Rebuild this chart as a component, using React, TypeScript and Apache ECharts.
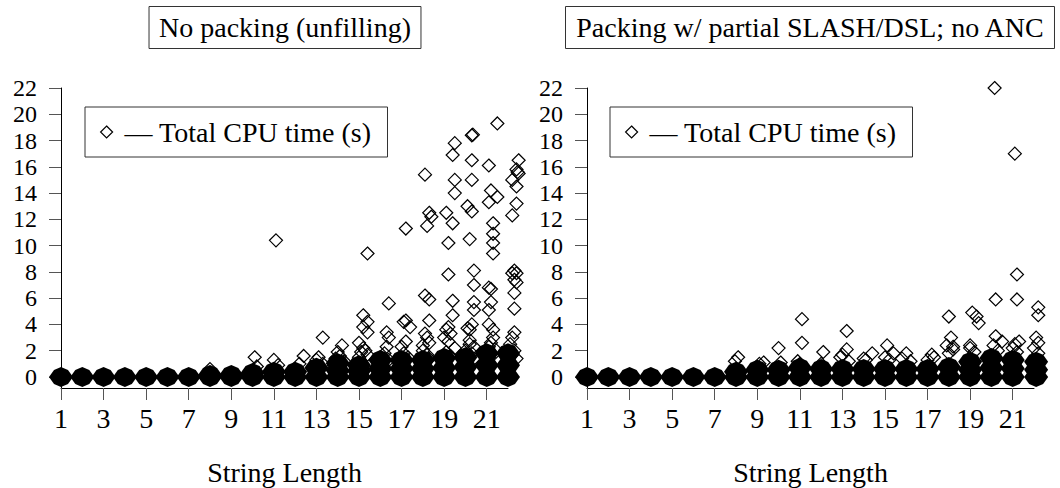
import React, { useEffect, useRef } from "react";
import * as echarts from "echarts";

const FONT = "Liberation Serif";

const xTickValues = [1, 3, 5, 7, 9, 11, 13, 15, 17, 19, 21];
const yTickValues = [0, 2, 4, 6, 8, 10, 12, 14, 16, 18, 20, 22];
const seriesName = "Total CPU time (s)";
const leftTitle = "No packing (unfilling)";
const rightTitle = "Packing w/ partial SLASH/DSL; no ANC";
const xName = "String Length";

// Hollow diamonds (individual runs), left panel
const leftPoints: [number, number][] = [
  [8.0, 0.6],
  [10.1, 1.5], [10.2, 0.8],
  [11.1, 10.4], [11.0, 1.3], [11.2, 0.9],
  [12.4, 1.6], [12.2, 1.0],
  [13.3, 3.0], [13.1, 1.5], [13.0, 1.3], [13.3, 1.0],
  [14.2, 2.4], [14.1, 1.6], [14.0, 1.9], [14.3, 1.2], [13.9, 1.4],
  [15.4, 9.4], [15.2, 4.7], [15.4, 4.2], [15.2, 3.8], [15.4, 3.4], [15.0, 2.6], [15.2, 2.2], [15.4, 1.7], [15.1, 1.9], [15.3, 2.0], [15.0, 1.5],
  [16.4, 5.6], [16.3, 3.4], [16.4, 3.0], [16.3, 2.3], [16.2, 1.8], [16.0, 1.5], [16.4, 1.3],
  [17.2, 11.3], [17.1, 4.2], [17.2, 4.3], [17.4, 3.8], [17.2, 2.7], [17.0, 2.3], [17.1, 1.8], [17.3, 1.5], [16.9, 1.3],
  [18.1, 15.4], [18.3, 12.5], [18.4, 12.2], [18.2, 11.5], [18.1, 6.2], [18.3, 5.9], [18.3, 4.3], [18.2, 3.0], [18.3, 2.6], [18.1, 3.3], [18.0, 2.0], [18.2, 1.7], [18.3, 1.4], [18.0, 2.4],
  [19.5, 17.8], [19.4, 16.9], [19.5, 15.0], [19.5, 14.0], [19.1, 12.5], [19.4, 11.7], [19.2, 10.2], [19.2, 7.8], [19.4, 5.8], [19.4, 4.7], [19.2, 3.8], [19.1, 3.6], [19.2, 2.7], [19.5, 2.2], [19.0, 3.0], [19.3, 3.3], [19.1, 1.9], [19.3, 1.6], [19.0, 1.4],
  [20.3, 18.4], [20.35, 18.45], [20.3, 16.5], [20.3, 15.0], [20.1, 13.0], [20.3, 12.6], [20.2, 10.5], [20.4, 8.1], [20.4, 7.0], [20.4, 5.7], [20.4, 5.1], [20.3, 4.0], [20.2, 3.6], [20.1, 3.7], [20.2, 2.8], [20.4, 2.3], [20.0, 2.0], [20.3, 1.8], [20.1, 1.5], [20.4, 1.4], [20.2, 2.5],
  [21.5, 19.3], [21.1, 16.1], [21.2, 14.2], [21.5, 13.7], [21.1, 13.3], [21.3, 11.7], [21.3, 10.9], [21.3, 10.2], [21.3, 9.4], [21.1, 6.8], [21.2, 6.7], [21.2, 5.7], [21.1, 5.1], [21.1, 4.0], [21.3, 3.6], [21.3, 3.0], [21.1, 2.3], [21.2, 2.6], [21.0, 1.9], [21.3, 1.7], [21.1, 1.5], [21.4, 2.1],
  [22.5, 16.5], [22.4, 15.8], [22.45, 15.6], [22.5, 15.5], [22.2, 15.0], [22.4, 14.5], [22.4, 13.2], [22.2, 12.3], [22.3, 8.1], [22.4, 7.9], [22.4, 7.2], [22.3, 6.4], [22.2, 7.9], [22.3, 7.4], [22.3, 5.2], [22.2, 3.0], [22.3, 3.4], [22.1, 2.5], [22.3, 2.0], [22.2, 1.7], [22.4, 1.4],
];

// Hollow diamonds, right panel
const rightPoints: [number, number][] = [
  [8.1, 1.5], [7.95, 1.2],
  [9.3, 1.1], [9.1, 1.0],
  [10.0, 2.2], [10.1, 1.1],
  [11.1, 4.4], [11.1, 2.6], [10.9, 1.2], [11.0, 1.0],
  [12.1, 1.9], [12.0, 1.0],
  [13.2, 3.5], [13.2, 2.1], [13.0, 1.7], [12.9, 1.5], [13.3, 1.2],
  [14.0, 1.4], [14.4, 1.8], [14.1, 1.3],
  [15.1, 2.4], [15.4, 1.8], [15.0, 1.5], [15.2, 1.3],
  [16.0, 1.8], [15.8, 1.4], [16.2, 1.2],
  [17.2, 1.7], [17.3, 1.5], [17.0, 1.3],
  [18.0, 4.6], [18.1, 3.0], [17.9, 2.4], [18.2, 2.3], [18.2, 2.1], [18.0, 1.8],
  [19.1, 4.9], [19.3, 4.6], [19.4, 4.1], [19.0, 2.4], [19.0, 2.2], [19.2, 1.9],
  [20.15, 22.0], [20.2, 5.9], [20.2, 3.1], [20.5, 2.7], [20.1, 2.4], [20.3, 2.0],
  [21.1, 17.0], [21.2, 7.8], [21.2, 5.9], [21.3, 2.7], [21.1, 2.5], [21.0, 2.2], [21.2, 1.9],
  [22.2, 5.3], [22.2, 4.7], [22.1, 3.0], [22.2, 2.6], [22.0, 2.2], [22.2, 1.8],
];

// Dense overlapping clusters near zero (drawn as solid blobs), left panel
const leftDense: [number, number][] = [
  [1, 0], [2, 0], [3, 0], [4, 0], [5, 0], [6, 0], [7, 0], [8, 0], [9, 0], [10, 0], [11, 0],
  [12, 0], [13, 0], [14, 0], [15, 0], [16, 0], [17, 0], [18, 0], [19, 0], [20, 0], [21, 0], [22, 0],
  [8, 0.15], [9, 0.15], [10, 0.3], [11, 0.4], [12, 0.4], [13, 0.7],
  [14, 0.5], [14, 1.05], [15, 0.45], [15, 0.9], [16, 0.65], [16, 1.3], [17, 0.65], [17, 1.3],
  [18, 0.65], [18, 1.3], [19, 0.7], [19, 1.45], [20, 0.75], [20, 1.5], [21, 0.9], [21, 1.8], [22, 0.9], [22, 1.8],
];

// Dense clusters, right panel
const rightDense: [number, number][] = [
  [1, 0], [2, 0], [3, 0], [4, 0], [5, 0], [6, 0], [7, 0], [8, 0], [9, 0], [10, 0], [11, 0],
  [12, 0], [13, 0], [14, 0], [15, 0], [16, 0], [17, 0], [18, 0], [19, 0], [20, 0], [21, 0], [22.1, 0],
  [8, 0.4], [9, 0.55], [10, 0.55], [11, 0.7], [12, 0.6], [13, 0.6], [14, 0.6], [15, 0.6], [16, 0.6], [17, 0.6],
  [18, 0.75], [19, 0.55], [19, 1.15], [20, 0.7], [20, 1.45], [21, 0.65], [21, 1.3], [22.1, 0.55], [22.1, 1.15],
];

const BLOB = "path://M0,10L5,3L12,0L19,3L24,10L19,17L12,20L5,17Z";

const hollowStyle = { color: "rgba(0,0,0,0)", borderColor: "#000", borderWidth: 1.2, opacity: 1 };

function makeX(gridIndex: number) {
  return {
    type: "value",
    gridIndex,
    min: 1,
    max: 22,
    axisLine: { show: true, onZero: false, lineStyle: { color: "#000", width: 1 } },
    axisTick: { show: true, customValues: xTickValues, length: 12, lineStyle: { color: "#555", width: 1 } },
    axisLabel: {
      customValues: xTickValues, fontSize: 28, fontFamily: FONT, color: "#000", margin: 16,
      showMinLabel: true, showMaxLabel: true,
    },
    splitLine: { show: false },
    name: xName,
    nameLocation: "middle",
    nameGap: 70,
    nameTextStyle: { fontSize: 28, fontFamily: FONT, color: "#000" },
  };
}

function makeY(gridIndex: number) {
  return {
    type: "value",
    gridIndex,
    min: -0.84,
    max: 22,
    axisLine: { show: true, onZero: false, lineStyle: { color: "#000", width: 1 } },
    axisTick: { show: true, customValues: yTickValues, length: 12, lineStyle: { color: "#555", width: 1 } },
    axisLabel: {
      customValues: yTickValues, fontSize: 24, lineHeight: 20, fontFamily: FONT, color: "#000", margin: 24,
      showMinLabel: true, showMaxLabel: true, hideOverlap: false,
    },
    splitLine: { show: false },
  };
}

function makeLegend(left: number) {
  return {
    data: [seriesName],
    left,
    top: 107,
    orient: "horizontal",
    icon: "diamond",
    itemWidth: 12,
    itemHeight: 12,
    itemStyle: hollowStyle,
    formatter: (name: string) => " \u2014 " + name,
    textStyle: { fontSize: 28, fontFamily: FONT, color: "#000" },
    padding: [11, 16, 11, 15],
    borderColor: "#333",
    borderWidth: 1,
    selectedMode: false,
  };
}

function makeTitle(text: string, x: number) {
  return {
    type: "text",
    x,
    y: 27.5,
    silent: true,
    style: {
      text,
      fontSize: 28,
      fontFamily: FONT,
      fill: "#000",
      align: "center",
      verticalAlign: "middle",
      textAlign: "center",
      textVerticalAlign: "middle",
      borderColor: "#333",
      borderWidth: 1,
      padding: [7, 10, 7, 10],
    },
  };
}

function App() {
  const ref = useRef<HTMLDivElement>(null);
  useEffect(() => {
    if (!ref.current) return;
    const chart = echarts.init(ref.current, null, { renderer: "svg" });
    const option: any = {
      animation: false,
      backgroundColor: "#fff",
      textStyle: { fontFamily: FONT },
      grid: [
        { left: 61, top: 88, width: 447, height: 300, containLabel: false, outerBoundsMode: "none" },
        { left: 587, top: 88, width: 447, height: 300, containLabel: false, outerBoundsMode: "none" },
      ],
      xAxis: [makeX(0), makeX(1)],
      yAxis: [makeY(0), makeY(1)],
      legend: [makeLegend(85), makeLegend(610)],
      graphic: [makeTitle(leftTitle, 285), makeTitle(rightTitle, 810)],
      series: [
        {
          type: "scatter", name: seriesName, xAxisIndex: 0, yAxisIndex: 0,
          data: leftPoints, symbol: "diamond", symbolSize: 13, itemStyle: hollowStyle, clip: false, silent: true,
        },
        {
          type: "scatter", name: "dense-left", xAxisIndex: 0, yAxisIndex: 0,
          data: leftDense, symbol: BLOB, symbolSize: [24, 20], itemStyle: { color: "#000", opacity: 1 }, clip: false, silent: true,
        },
        {
          type: "scatter", name: seriesName, xAxisIndex: 1, yAxisIndex: 1,
          data: rightPoints, symbol: "diamond", symbolSize: 13, itemStyle: hollowStyle, clip: false, silent: true,
        },
        {
          type: "scatter", name: "dense-right", xAxisIndex: 1, yAxisIndex: 1,
          data: rightDense, symbol: BLOB, symbolSize: [24, 20], itemStyle: { color: "#000", opacity: 1 }, clip: false, silent: true,
        },
      ],
    };
    chart.setOption(option);
    return () => chart.dispose();
  }, []);
  return (
    <div
      ref={ref}
      style={{ position: "absolute", left: 0, top: 0, width: 1060, height: 488, background: "#fff" }}
    />
  );
}

export default App;
